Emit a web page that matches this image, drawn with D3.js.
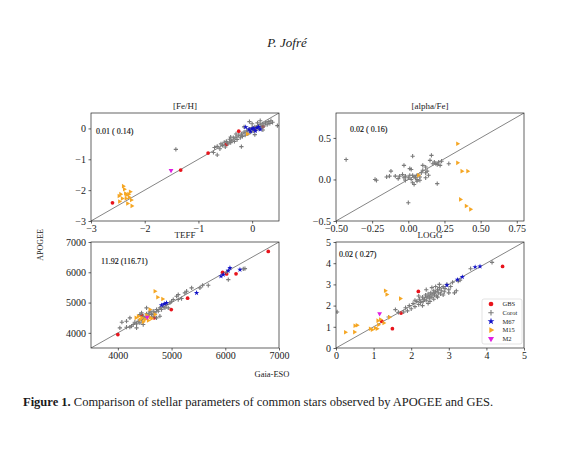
<!DOCTYPE html>
<html>
<head>
<meta charset="utf-8">
<script src="https://cdn.jsdelivr.net/npm/d3@7"></script>
<style>
  body { margin: 0; background: #fff; }
  svg text { font-family: "Liberation Serif", "DejaVu Serif", serif; fill: #1a1a1a; }
</style>
</head>
<body>
<svg id="fig" width="572" height="450"></svg>
<script>
// star groups, legend order
var groups = ['GBS', 'Corot', 'M67', 'M15', 'M2'];

var panelTitles = ['[Fe/H]', '[alpha/Fe]', 'TEFF', 'LOGG'];
var panelStats = ['0.01 ( 0.14)', '0.02 ( 0.16)', '11.92 (116.71)', '0.02 ( 0.27)'];

// tick values / labels
var fehTicks = [-3, -2, -1, 0];
var fehTickLabels = ['\u22123', '\u22122', '\u22121', '0'];
var alphaXTicks = [-0.5, -0.25, 0, 0.25, 0.5, 0.75];
var alphaXTickLabels = ['\u22120.50', '\u22120.25', '0.00', '0.25', '0.50', '0.75'];
var alphaYTicks = [-0.5, 0, 0.5];
var alphaYTickLabels = ['\u22120.5', '0.0', '0.5'];
var teffTicks = [4000, 5000, 6000, 7000];
var teffTickLabels = ['4000', '5000', '6000', '7000'];
var loggTicks = [0, 1, 2, 3, 4, 5];
var loggTickLabels = ['0', '1', '2', '3', '4', '5'];

// [Fe/H]  -- [Gaia-ESO, APOGEE]
var fehGbs = [[-2.60, -2.41], [-1.33, -1.35], [-0.82, -0.80], [-0.48, -0.52], [-0.25, -0.09],
  [0.05, -0.04], [0.20, 0.06]];
var fehCorot = [[-0.70, -0.62], [-0.65, -0.58], [-0.60, -0.66], [-0.58, -0.50], [-0.55, -0.55],
  [-0.52, -0.45], [-0.50, -0.60], [-0.48, -0.42], [-0.45, -0.50], [-0.42, -0.35], [-0.40, -0.46],
  [-0.38, -0.40], [-0.35, -0.30], [-0.33, -0.42], [-0.30, -0.28], [-0.28, -0.36], [-0.25, -0.22],
  [-0.22, -0.30], [-0.20, -0.18], [-0.18, -0.26], [-0.15, -0.12], [-0.13, -0.22], [-0.10, -0.08],
  [-0.08, -0.18], [-0.05, -0.02], [-0.03, -0.12], [0.00, 0.02], [0.02, -0.08], [0.05, 0.05],
  [0.07, -0.05], [0.10, 0.08], [0.12, 0.00], [0.15, 0.12], [0.17, 0.04], [0.20, 0.15],
  [0.22, 0.08], [0.25, 0.18], [0.28, 0.12], [0.30, 0.22], [0.33, 0.16], [0.35, 0.25],
  [0.38, 0.20], [-0.30, -0.18], [-0.15, 0.05], [0.00, 0.15], [0.10, 0.18], [-0.40, -0.28],
  [0.05, -0.20], [0.20, -0.05], [-1.42, -0.68], [-0.65, -0.86], [-0.20, -0.59], [0.47, 0.09],
  [-0.72, -0.78], [-0.05, 0.22], [0.15, 0.25]];
var fehM67 = [[-0.06, -0.03], [0.00, -0.01], [0.03, 0.00], [0.09, 0.02], [0.15, -0.03],
  [-0.03, -0.10], [0.06, -0.08], [-0.12, 0.04], [0.12, 0.05]];
var fehM15 = [[-2.40, -1.87], [-2.38, -1.97], [-2.48, -2.19], [-2.45, -2.13], [-2.36, -2.11],
  [-2.30, -2.13], [-2.29, -2.23], [-2.25, -2.32], [-2.35, -2.27], [-2.32, -2.43], [-2.24, -2.51],
  [-2.42, -2.27], [-2.34, -2.16], [-2.27, -2.05], [-2.47, -2.37], [-0.09, -0.18]];
var fehM2 = [[-1.51, -1.36]];

// [alpha/Fe]
var alphaGbs = [];
var alphaCorot = [[-0.43, 0.24], [-0.23, 0.00], [-0.22, -0.01], [-0.15, 0.03], [-0.13, 0.04],
  [-0.12, 0.10], [-0.09, 0.04], [-0.07, 0.01], [-0.06, 0.04], [-0.03, 0.17], [-0.03, 0.02],
  [-0.02, 0.04], [0.00, 0.02], [0.01, 0.13], [0.02, 0.12], [0.03, 0.28], [0.03, -0.04],
  [0.04, -0.06], [0.05, 0.02], [0.06, 0.05], [0.08, -0.01], [0.09, 0.08], [0.10, 0.17],
  [0.10, 0.11], [0.12, 0.15], [0.12, 0.08], [0.13, 0.10], [0.16, 0.29], [0.17, 0.19],
  [0.18, 0.21], [0.19, 0.19], [0.20, 0.18], [0.21, 0.21], [0.22, 0.17], [0.20, -0.05],
  [0.28, 0.19], [0.00, -0.28], [0.06, -0.02], [0.04, 0.03], [-0.02, -0.01], [0.02, 0.00],
  [0.03, 0.05], [0.06, 0.00], [0.08, 0.03], [0.01, 0.05], [-0.04, 0.06], [0.15, 0.23],
  [0.23, 0.22], [0.12, 0.02], [0.14, 0.05]];
var alphaM67 = [];
var alphaM15 = [[0.34, 0.43], [0.34, 0.20], [0.37, 0.10], [0.41, 0.10], [0.36, -0.24],
  [0.40, -0.32], [0.43, -0.36], [0.07, 0.05]];
var alphaM2 = [];

// TEFF
var teffGbs = [[4000, 3945], [4677, 4495], [4994, 4770], [5298, 5143], [5950, 6000],
  [6025, 5945], [6200, 5950], [6800, 6690], [4441, 4582]];
var teffCorot = [[4037, 4165], [4075, 4352], [4161, 4187], [4224, 4495], [4255, 4220],
  [4286, 4275], [4317, 4352], [4348, 4297], [4379, 4385], [4410, 4330], [4441, 4440],
  [4472, 4549], [4503, 4495], [4534, 4626], [4565, 4582], [4596, 4659], [4627, 4604],
  [4658, 4714], [4689, 4659], [4720, 4769], [4752, 4714], [4783, 4824], [4813, 4769],
  [4845, 4879], [4876, 4824], [4907, 4934], [4938, 4824], [4969, 4989], [5000, 5044],
  [5031, 5099], [5093, 5209], [5124, 5264], [5186, 5132], [5248, 5319], [5280, 5374],
  [5373, 5484], [5578, 5571], [5683, 5571], [5528, 5484], [6056, 5758], [6366, 6121],
  [6335, 6110], [6025, 6011], [4783, 4549], [4720, 4495], [4161, 4385], [4534, 4824],
  [4596, 4714], [4410, 4604], [5124, 5099], [4224, 4187], [4348, 4165], [4472, 4275],
  [4658, 4549], [4441, 4659]];
var teffM67 = [[5466, 5319], [5919, 5868], [5963, 5923], [6056, 6055], [6087, 6143],
  [6273, 6088], [4906, 4989], [4813, 4912], [4863, 4956]];
var teffM15 = [[4689, 5374], [4739, 5176], [4832, 5121], [4596, 4769], [4379, 4549],
  [4441, 4495], [4503, 4440], [4565, 4407], [4627, 4473], [4472, 4363], [4410, 4440],
  [4534, 4582], [4596, 4516], [4335, 4495], [4690, 4604]];
var teffM2 = [[4547, 4516]];

// LOGG
var loggGbs = [[4.43, 3.85], [2.19, 2.67], [1.73, 1.65], [1.22, 1.26], [1.50, 0.91]];
var loggCorot = [[0.03, 1.70], [1.40, 1.46], [1.58, 1.81], [1.66, 1.68], [3.58, 3.74],
  [4.15, 4.04], [1.85, 1.90], [1.90, 1.75], [1.95, 2.00], [2.00, 1.85], [2.05, 2.10],
  [2.10, 1.95], [2.15, 2.20], [2.20, 2.05], [2.22, 2.30], [2.25, 2.15], [2.30, 2.40],
  [2.32, 2.20], [2.35, 2.30], [2.38, 2.50], [2.40, 2.25], [2.42, 2.40], [2.45, 2.55],
  [2.48, 2.35], [2.50, 2.45], [2.52, 2.60], [2.55, 2.40], [2.58, 2.55], [2.60, 2.70],
  [2.62, 2.50], [2.65, 2.65], [2.68, 2.45], [2.70, 2.75], [2.72, 2.60], [2.75, 2.85],
  [2.78, 2.55], [2.80, 2.70], [2.85, 2.90], [2.88, 2.65], [2.90, 2.80], [2.95, 3.00],
  [3.00, 2.75], [3.05, 2.90], [3.10, 3.10], [3.15, 2.60], [3.20, 2.70], [2.40, 2.75],
  [2.55, 2.85], [2.30, 2.00], [2.60, 2.30], [2.20, 2.45], [2.50, 2.20], [2.70, 2.40],
  [2.85, 2.50], [3.00, 2.60], [2.10, 2.25], [1.80, 1.70], [2.45, 2.10], [2.75, 3.00],
  [2.65, 2.90], [3.25, 3.15], [3.30, 3.20]];
var loggM67 = [[2.95, 2.96], [3.36, 3.35], [3.70, 3.82], [3.83, 3.85], [3.23, 3.22]];
var loggM15 = [[1.31, 2.70], [1.35, 2.52], [1.71, 2.33], [1.42, 1.45], [0.25, 0.74],
  [0.49, 0.75], [0.50, 1.05], [0.56, 1.07], [0.91, 0.91], [0.96, 0.86], [1.04, 0.94],
  [1.09, 0.91], [1.11, 1.29], [1.18, 1.34], [1.13, 1.10], [1.27, 1.18]];
var loggM2 = [[1.16, 1.62]];

// plus marker (line based, stroked)
var symbolPlusLine = {
  draw: function(context, size) {
    var r = Math.sqrt(size) / 2;
    context.moveTo(-r, 0); context.lineTo(r, 0);
    context.moveTo(0, -r); context.lineTo(0, r);
  }
};

var markers = {
  GBS:   {type: d3.symbolCircle, size: 11, fill: '#e8141c', stroke: 'none', rotate: 0},
  Corot: {type: symbolPlusLine, size: 18, fill: 'none', stroke: '#7b7b7b', rotate: 0},
  M67:   {type: d3.symbolStar, size: 9, fill: '#1212c8', stroke: 'none', rotate: 0},
  M15:   {type: d3.symbolTriangle, size: 9, fill: '#f5a623', stroke: 'none', rotate: 90},
  M2:    {type: d3.symbolTriangle, size: 10, fill: '#e01ee0', stroke: 'none', rotate: 180}
};

var panels = [
  {series: [fehGbs, fehCorot, fehM67, fehM15, fehM2], domain: [-3, 0.5],
   xTicks: fehTicks, xLabels: fehTickLabels, yTicks: fehTicks, yLabels: fehTickLabels,
   left: 91, top: 113, width: 188, height: 108, statX: 5, statY: 21},
  {series: [alphaGbs, alphaCorot, alphaM67, alphaM15, alphaM2], domain: [-0.5, 0.8],
   xTicks: alphaXTicks, xLabels: alphaXTickLabels, yTicks: alphaYTicks, yLabels: alphaYTickLabels,
   left: 336, top: 113, width: 188, height: 108, statX: 14, statY: 19},
  {series: [teffGbs, teffCorot, teffM67, teffM15, teffM2], domain: [3500, 7000],
   xTicks: teffTicks, xLabels: teffTickLabels, yTicks: teffTicks, yLabels: teffTickLabels,
   left: 91, top: 242, width: 188, height: 106, statX: 10, statY: 22},
  {series: [loggGbs, loggCorot, loggM67, loggM15, loggM2], domain: [0, 5],
   xTicks: loggTicks, xLabels: loggTickLabels, yTicks: loggTicks, yLabels: loggTickLabels,
   left: 336, top: 242, width: 188, height: 106, statX: 3, statY: 15, legend: true}
];

var svg = d3.select('#fig');

function markerPath(name) {
  return d3.symbol().type(markers[name].type).size(markers[name].size)();
}

function drawPanel(p, i) {
  var g = svg.append('g').attr('transform', 'translate(' + p.left + ',' + p.top + ')');

  var x = d3.scaleLinear().domain(p.domain).range([0, p.width]);
  var y = d3.scaleLinear().domain(p.domain).range([p.height, 0]);

  g.append('clipPath').attr('id', 'clip' + i)
    .append('rect').attr('width', p.width).attr('height', p.height);

  var plot = g.append('g').attr('clip-path', 'url(#clip' + i + ')');

  // 1:1 line
  plot.append('line')
    .attr('x1', x(p.domain[0])).attr('y1', y(p.domain[0]))
    .attr('x2', x(p.domain[1])).attr('y2', y(p.domain[1]))
    .attr('stroke', '#333').attr('stroke-width', 0.6);

  groups.forEach(function(name, k) {
    var m = markers[name];
    plot.selectAll('path.' + name)
      .data(p.series[k])
      .enter()
      .append('path')
      .attr('class', name)
      .attr('d', markerPath(name))
      .attr('transform', function(d) {
        return 'translate(' + x(d[0]) + ',' + y(d[1]) + ') rotate(' + m.rotate + ')';
      })
      .attr('fill', m.fill)
      .attr('stroke', m.stroke)
      .attr('stroke-width', 1.1);
  });

  // frame
  g.append('rect')
    .attr('width', p.width).attr('height', p.height)
    .attr('fill', 'none').attr('stroke', '#222').attr('stroke-width', 0.7);

  var xAxis = d3.axisBottom(x)
    .tickValues(p.xTicks)
    .tickFormat(function(d, j) { return p.xLabels[j]; })
    .tickSizeInner(2.5).tickSizeOuter(0).tickPadding(1.5);
  var yAxis = d3.axisLeft(y)
    .tickValues(p.yTicks)
    .tickFormat(function(d, j) { return p.yLabels[j]; })
    .tickSizeInner(2.5).tickSizeOuter(0).tickPadding(2.5);

  var ax = g.append('g').attr('transform', 'translate(0,' + p.height + ')').call(xAxis);
  var ay = g.append('g').call(yAxis);
  [ax, ay].forEach(function(a) {
    a.select('.domain').remove();
    a.selectAll('line').attr('stroke', '#222').attr('stroke-width', 0.7);
    a.selectAll('text').attr('font-size', 10).attr('font-family', null).attr('fill', '#1a1a1a');
  });

  // titles sit on the tick labels above them, as in the original figure
  g.append('text')
    .attr('x', p.width / 2).attr('y', -4)
    .attr('text-anchor', 'middle')
    .attr('font-size', 9)
    .text(panelTitles[i]);

  g.append('text')
    .attr('x', p.statX).attr('y', p.statY)
    .attr('font-size', 8)
    .attr('fill', '#000')
    .attr('stroke', '#000').attr('stroke-width', 0.15)
    .text(panelStats[i]);

  if (p.legend) drawLegend(g);
}

function drawLegend(g) {
  var lg = g.append('g').attr('transform', 'translate(146,57)');
  lg.append('rect')
    .attr('width', 40).attr('height', 45).attr('rx', 2)
    .attr('fill', '#fff').attr('fill-opacity', 0.85)
    .attr('stroke', '#d0d0d0').attr('stroke-width', 0.6);
  groups.forEach(function(name, k) {
    var m = markers[name];
    var row = lg.append('g').attr('transform', 'translate(0,' + (5 + k * 8.7) + ')');
    row.append('path')
      .attr('d', d3.symbol().type(m.type).size(m.size * 1.6)())
      .attr('transform', 'translate(9,0) rotate(' + m.rotate + ')')
      .attr('fill', m.fill).attr('stroke', m.stroke).attr('stroke-width', 1.1);
    row.append('text')
      .attr('x', 20.5).attr('y', 2.3)
      .attr('font-size', 6.5)
      .text(name);
  });
}

panels.forEach(drawPanel);

// figure texts
svg.append('text')
  .attr('x', 287).attr('y', 47)
  .attr('text-anchor', 'middle')
  .attr('font-size', 13).attr('font-style', 'italic')
  .text('P. Jofr\u00e9');

svg.append('text')
  .attr('x', 272).attr('y', 377)
  .attr('text-anchor', 'middle')
  .attr('font-size', 8.5)
  .text('Gaia-ESO');

svg.append('text')
  .attr('transform', 'translate(43,245) rotate(-90)')
  .attr('text-anchor', 'middle')
  .attr('font-size', 8)
  .text('APOGEE');

var cap = svg.append('text').attr('x', 23).attr('y', 406).attr('font-size', 12.5);
cap.append('tspan').attr('font-weight', 'bold').text('Figure 1.');
cap.append('tspan').text(' Comparison of stellar parameters of common stars observed by APOGEE and GES.');
</script>
</body>
</html>
